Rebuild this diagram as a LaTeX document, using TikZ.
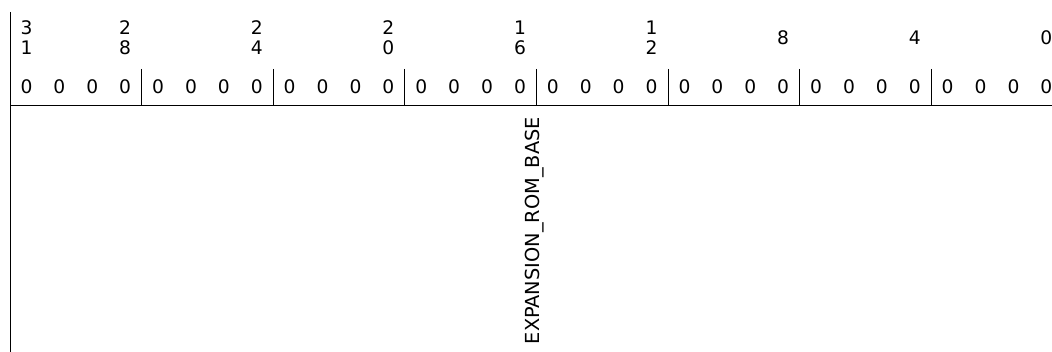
\documentclass[tikz,border=0pt]{standalone}
\usepackage{fontspec}
\setmainfont{DejaVu Sans}
\usepackage{xcolor}
\usetikzlibrary{positioning}

\tikzset{
  bitval/.style={font=\fontsize{14}{15}\selectfont, inner sep=0pt},
  bitpos/.style={font=\fontsize{14}{15}\selectfont, align=center, inner sep=0pt},
  fieldname/.style={font=\fontsize{14.5}{15}\selectfont, rotate=90, anchor=east, inner sep=0pt},
  rule/.style={draw=black, line width=0.75pt},
}

\begin{document}
\begin{tikzpicture}[x=0.75pt, y=-0.75pt]
  \useasboundingbox (0,0) rectangle (1052,352);

  % bit values
  \foreach \i in {0,...,31}
    \node[bitval] (b\i) at ({10+(31-\i+0.5)*32.9},87) {0};

  % bit positions
  \node[bitpos] (p31) at (b31 |- 0,38) {3\\1};
  \node[bitpos] (p28) at (b28 |- 0,38) {2\\8};
  \node[bitpos] (p24) at (b24 |- 0,38) {2\\4};
  \node[bitpos] (p20) at (b20 |- 0,38) {2\\0};
  \node[bitpos] (p16) at (b16 |- 0,38) {1\\6};
  \node[bitpos] (p12) at (b12 |- 0,38) {1\\2};
  \node[bitpos] (p8)  at (b8 |- 0,38)  {8};
  \node[bitpos] (p4)  at (b4 |- 0,38)  {4};
  \node[bitpos] (p0)  at (b0 |- 0,38)  {0};

  % frame
  \coordinate (top) at (10,12);
  \coordinate (bot) at (10,352);
  \coordinate (hl) at (10,106);
  \coordinate (hr) at (1052,106);
  \draw[rule] (top) -- (bot);
  \draw[rule] (hl) -- (hr);
  \foreach \k in {1,...,7}
    \draw[rule] ({10+4*\k*32.9},69) -- ({10+4*\k*32.9},106);

  % field
  \node[fieldname] (rom) at (535,117) {EXPANSION\_ROM\_BASE};
\end{tikzpicture}
\end{document}
